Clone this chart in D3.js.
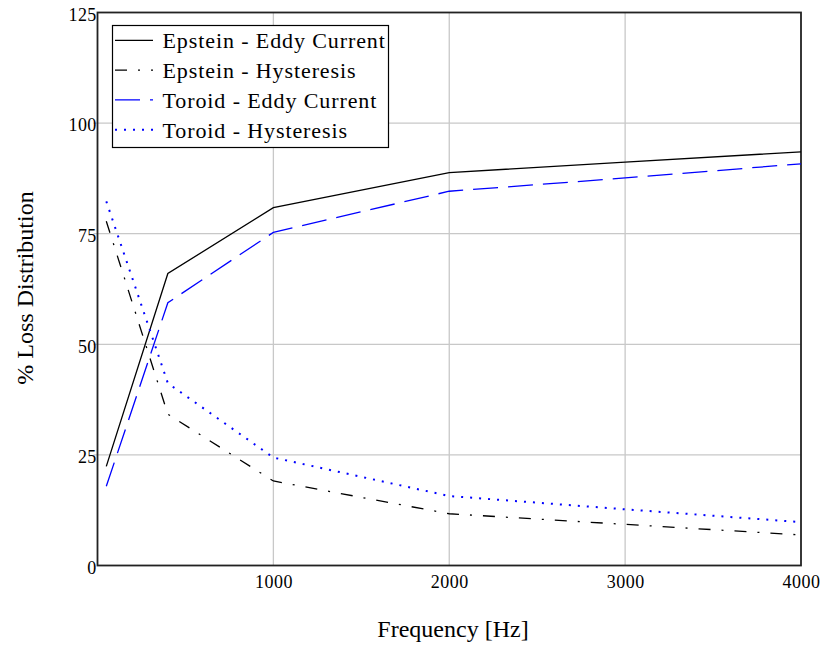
<!DOCTYPE html>
<html><head><meta charset="utf-8">
<script src="https://cdn.jsdelivr.net/npm/d3@7"></script>
<style>body{margin:0;background:#fff}svg{display:block}</style>
</head><body>
<script>
const freq = [50, 400, 1000, 2000, 3000, 4000];
const epsteinEddy = [22.4, 66.0, 80.9, 88.8, 91.2, 93.5];
const epsteinHyst = [77.8, 34.2, 19.1, 11.7, 9.3, 6.9];
const toroidEddy = [17.9, 59.4, 75.3, 84.6, 87.6, 90.8];
const toroidHyst = [82.3, 41.2, 24.4, 15.7, 12.7, 9.8];
const xTicks = [1000, 2000, 3000, 4000];
const yTicks = [0, 25, 50, 75, 100, 125];
const seriesNames = ["Epstein - Eddy Current", "Epstein - Hysteresis", "Toroid - Eddy Current", "Toroid - Hysteresis"];

const W = 831, H = 647;
const svg = d3.select("body").append("svg").attr("width", W).attr("height", H);
const x = d3.scaleLinear().domain([0, 4000]).range([97.5, 801]);
const y = d3.scaleLinear().domain([0, 125]).range([565.5, 12.5]);
const font = "Liberation Serif, Times New Roman, serif";

// grid
svg.append("g").selectAll("line").data(xTicks.slice(0, 3)).join("line")
  .attr("x1", d => x(d)).attr("x2", d => x(d)).attr("y1", y(125)).attr("y2", y(0))
  .attr("stroke", "#c8c8c8").attr("stroke-width", 1.3);
svg.append("g").selectAll("line").data(yTicks.slice(1, 5)).join("line")
  .attr("x1", x(0) - 4).attr("x2", x(4000)).attr("y1", d => y(d)).attr("y2", d => y(d))
  .attr("stroke", "#c8c8c8").attr("stroke-width", 1.3);

const yAxis = svg.append("g").attr("transform", `translate(${x(0) - 1},1.5)`)
  .call(d3.axisLeft(y).tickValues(yTicks).tickSize(0).tickPadding(0).tickFormat(d3.format("d")));
yAxis.select(".domain").remove();
yAxis.selectAll("text").attr("font-family", font).attr("font-size", 18).attr("fill", "#000")
  .attr("letter-spacing", 0.3).attr("dy", "0.35em");

const xAxis = svg.append("g").attr("transform", `translate(0,${y(0)})`)
  .call(d3.axisBottom(x).tickValues(xTicks).tickSize(0).tickPadding(10).tickFormat(d3.format("d")));
xAxis.select(".domain").remove();
xAxis.selectAll("text").attr("font-family", font).attr("font-size", 18).attr("fill", "#000")
  .attr("letter-spacing", 0.5);

// frame
svg.append("rect").attr("x", x(0)).attr("y", y(125)).attr("width", x(4000) - x(0)).attr("height", y(0) - y(125))
  .attr("fill", "none").attr("stroke", "#222").attr("stroke-width", 1.8);

const styles = [
  {color: "#000", dash: null, w: 1.3},
  {color: "#000", dash: "12,11,2,11", w: 1.3},
  {color: "#0000ff", dash: "25,10", w: 1.3},
  {color: "#0000ff", dash: "2,7", w: 2}
];
const allSeries = [epsteinEddy, epsteinHyst, toroidEddy, toroidHyst];
const line = d3.line().x((d, i) => x(freq[i])).y(d => y(d));
allSeries.forEach((s, k) => {
  svg.append("path").datum(s).attr("d", line).attr("fill", "none")
    .attr("stroke", styles[k].color).attr("stroke-width", styles[k].w)
    .attr("stroke-dasharray", styles[k].dash);
});

// legend
const lg = svg.append("g");
lg.append("rect").attr("x", 112.5).attr("y", 25.5).attr("width", 276).attr("height", 122)
  .attr("fill", "#fff").attr("stroke", "#000").attr("stroke-width", 1.2);
seriesNames.forEach((n, k) => {
  const base = 48.3 + k * 29.8;
  lg.append("line").attr("x1", 115).attr("x2", 153).attr("y1", base - 8).attr("y2", base - 8)
    .attr("stroke", styles[k].color).attr("stroke-width", styles[k].w)
    .attr("stroke-dasharray", styles[k].dash);
  lg.append("text").attr("x", 162.5).attr("y", base)
    .attr("font-family", font).attr("font-size", 22).attr("letter-spacing", 0.9).text(n);
});

// titles
svg.append("text").attr("x", 453).attr("y", 637).attr("text-anchor", "middle")
  .attr("font-family", font).attr("font-size", 24).text("Frequency [Hz]");
svg.append("text").attr("transform", "translate(33,288) rotate(-90)").attr("text-anchor", "middle")
  .attr("font-family", font).attr("font-size", 24).text("% Loss Distribution");
</script>
</body></html>
